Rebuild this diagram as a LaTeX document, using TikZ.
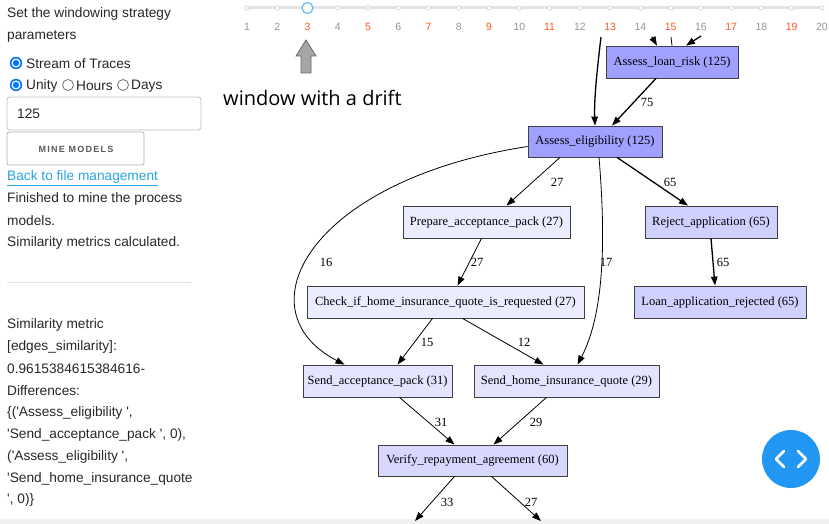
\documentclass[tikz,border=0pt]{standalone}
\usepackage{fontspec}
\setmainfont{Liberation Serif}
\newfontfamily\uifont{Liberation Sans}
\newfontfamily\capfont{Open Sans}
\usetikzlibrary{arrows.meta}
\definecolor{strongpurple}{RGB}{160,160,255}
\definecolor{midpurple}{RGB}{208,208,255}
\definecolor{lightpurple}{RGB}{236,236,255}
\definecolor{lightpurpleb}{RGB}{228,228,255}
\definecolor{verifypurple}{RGB}{216,216,255}
\definecolor{ticklabel}{RGB}{150,150,150}
\definecolor{tickorange}{RGB}{255,87,34}
\definecolor{trackgrey}{RGB}{228,228,228}
\definecolor{handleblue}{RGB}{100,190,245}
\definecolor{radioblue}{RGB}{0,117,255}
\definecolor{linkblue}{RGB}{40,165,225}
\definecolor{fabblue}{RGB}{33,150,243}
\definecolor{uitext}{RGB}{40,40,40}
\begin{document}
\begin{tikzpicture}[x=1pt,y=-1pt,
  gbox/.style={draw=black!75,line width=0.8pt,inner sep=0pt,minimum height=32pt,font=\fontsize{12.5}{14}\selectfont},
  edge/.style={-{Triangle[length=9pt,width=6.5pt]},line width=0.8pt},
  thickedge/.style={edge,line width=1.3pt},
  elabel/.style={font=\fontsize{12.5}{14}\selectfont,inner sep=0pt},
  uitxt/.style={anchor=west,inner sep=0pt,font=\uifont\fontsize{13.7}{15}\selectfont,text=uitext},
  tick/.style={font=\uifont\fontsize{10.5}{12}\selectfont,inner sep=0pt},
  radioon/.style={fill=radioblue,draw=radioblue},
  radiooff/.style={fill=white,draw=black!55,line width=0.8pt}]
\useasboundingbox (0,0) rectangle (829,524);
\fill[white] (0,0) rectangle (829,524);

% ---------- left panel ----------
\node[uitxt] (t1) at (7,14) {Set the windowing strategy};
\node[uitxt] (t2) at (7,36) {parameters};
\fill[radioon] (16,63) circle (6pt); \draw[white,line width=1.2pt] (16,63) circle (3.9pt);
\node[uitxt] (t3) at (26,64) {Stream of Traces};
\fill[radioon] (16,85) circle (6pt); \draw[white,line width=1.2pt] (16,85) circle (3.9pt);
\node[uitxt] (t4) at (26,86) {Unity};
\draw[radiooff] (68,85) circle (5.5pt);
\node[uitxt] (t5) at (76,86) {Hours};
\draw[radiooff] (123,85) circle (5.5pt);
\node[uitxt] (t6) at (131,86) {Days};
\draw[black!25,rounded corners=3pt,line width=0.8pt] (7,97) rectangle (201,130);
\node[uitxt] (t7) at (17,114) {125};
\draw[black!30,rounded corners=2pt,line width=0.8pt] (7,132) rectangle (144,165);
\node[font=\uifont\bfseries\fontsize{9}{10}\selectfont\addfontfeature{LetterSpace=14},text=black!65,inner sep=0pt] (btn) at (76,149.5) {MINE MODELS};
\node[uitxt,text=linkblue] (link) at (7,177) {Back to file management};
\draw[linkblue,line width=0.7pt] (link.south west) ++(0,2) -- ([yshift=-2pt]link.south east);
\node[uitxt] (t8) at (7,199) {Finished to mine the process};
\node[uitxt] (t9) at (7,221) {models.};
\node[uitxt] (t10) at (7,243) {Similarity metrics calculated.};
\draw[black!12,line width=0.8pt] (7,282) -- (191,282);
\node[uitxt] (s1) at (7,325) {Similarity metric};
\node[uitxt] (s2) at (7,347) {[edges\_similarity]:};
\node[uitxt] (s3) at (7,369) {0.9615384615384616-};
\node[uitxt] (s4) at (7,391) {Differences:};
\node[uitxt] (s5) at (7,413) {\{('Assess\_eligibility ',};
\node[uitxt] (s6) at (7,435) {'Send\_acceptance\_pack ', 0),};
\node[uitxt] (s7) at (7,457) {('Assess\_eligibility ',};
\node[uitxt] (s8) at (7,479) {'Send\_home\_insurance\_quote};
\node[uitxt] (s9) at (7,500) {', 0)\}};
\fill[black!6] (0,519) rectangle (829,524);

% ---------- slider ----------
\draw[trackgrey,line width=3pt,line cap=round] (247,8) -- (822,8);
\foreach \i in {1,...,20} {
  \pgfmathsetmacro{\xx}{247+(\i-1)*30.26}
  \draw[black!18,fill=white,line width=0.6pt] (\xx,8) circle (2.2pt);
  \pgfmathparse{mod(\i,2)==1 && \i>2 ? 1 : 0}
  \ifnum\pgfmathresult=1
    \node[tick,text=tickorange] (lab\i) at (\xx,27) {\i};
  \else
    \node[tick,text=ticklabel] (lab\i) at (\xx,27) {\i};
  \fi
}
\draw[handleblue,fill=white,line width=1.2pt] (307.5,8) circle (5.5pt);

% block arrow and caption
\draw[black!60,fill=black!35,line width=0.8pt] (306,40) -- (316,56) -- (311,56) -- (311,73) -- (301,73) -- (301,56) -- (296,56) -- cycle;
\node[font=\capfont\fontsize{20}{22}\selectfont,anchor=west,inner sep=0pt] (drift) at (223,98) {window with a drift};

% ---------- graph ----------
\node[gbox,fill=strongpurple,minimum width=132pt] (alr) at (672,62) {Assess\_loan\_risk (125)};
\node[gbox,fill=strongpurple,minimum width=134pt,minimum height=31pt] (ae) at (595,141.5) {Assess\_eligibility (125)};
\node[gbox,fill=lightpurple,minimum width=167pt] (pap) at (486.5,222) {Prepare\_acceptance\_pack (27)};
\node[gbox,fill=midpurple,minimum width=132pt] (ra) at (711,222) {Reject\_application (65)};
\node[gbox,fill=lightpurple,minimum width=277pt] (chk) at (445.5,302) {Check\_if\_home\_insurance\_quote\_is\_requested (27)};
\node[gbox,fill=midpurple,minimum width=172pt] (lar) at (720,302) {Loan\_application\_rejected (65)};
\node[gbox,fill=lightpurpleb,minimum width=149pt] (sap) at (377.5,381) {Send\_acceptance\_pack (31)};
\node[gbox,fill=lightpurpleb,minimum width=185pt] (shq) at (566.5,381) {Send\_home\_insurance\_quote (29)};
\node[gbox,fill=verifypurple,minimum width=189pt,minimum height=31pt] (vra) at (472.5,460.5) {Verify\_repayment\_agreement (60)};

% free ends
\coordinate (in1) at (652,37);
\coordinate (in2) at (671,37);
\coordinate (in3) at (701,36);
\coordinate (in4) at (601,37);
\coordinate (out1) at (415,521);
\coordinate (out2) at (541,521);

\draw[thickedge] (in1) -- ([xshift=-15pt]alr.north);
\draw[line width=0.8pt] (in2) -- (alr.north);
\draw[thickedge] (in3) -- ([xshift=14pt]alr.north);
\draw[thickedge] (in4) .. controls (597,70) and (594,100) .. (ae.north);
\draw[thickedge] ([xshift=-16pt]alr.south) -- ([xshift=17pt]ae.north);
\draw[edge] ([xshift=-35pt]ae.south) -- ([xshift=20pt]pap.north);
\draw[thickedge] ([xshift=22pt]ae.south) -- ([xshift=-23pt]ra.north);
\draw[edge] ([yshift=-5pt]ae.west) .. controls (310,180) and (240,310) .. ([xshift=-33pt]sap.north);
\draw[edge] ([xshift=4pt]ae.south) .. controls (605,230) and (606,310) .. ([xshift=11pt]shq.north);
\draw[edge] ([xshift=-5pt]pap.south) -- ([xshift=12pt]chk.north);
\draw[thickedge] (ra.south) -- ([xshift=-5pt]lar.north);
\draw[edge] ([xshift=-13pt]chk.south) -- ([xshift=20pt]sap.north);
\draw[edge] ([xshift=17pt]chk.south) -- ([xshift=-23pt]shq.north);
\draw[edge] ([xshift=22pt]sap.south) -- ([xshift=-18pt]vra.north);
\draw[edge] ([xshift=-20pt]shq.south) -- ([xshift=21pt]vra.north);
\draw[edge] ([xshift=-18pt]vra.south) -- (out1);
\draw[edge] ([xshift=19pt]vra.south) -- (out2);

\node[elabel] (l75) at (647,102) {75};
\node[elabel] (l27a) at (557,182) {27};
\node[elabel] (l65a) at (670,182) {65};
\node[elabel] (l16) at (326,262) {16};
\node[elabel] (l27b) at (477,262) {27};
\node[elabel] (l17) at (606,262) {17};
\node[elabel] (l65b) at (723,262) {65};
\node[elabel] (l15) at (427,342) {15};
\node[elabel] (l12) at (524,342) {12};
\node[elabel] (l31) at (441,422) {31};
\node[elabel] (l29) at (536,422) {29};
\node[elabel] (l33) at (447,502) {33};
\node[elabel] (l27c) at (531,502) {27};

% floating button
\fill[fabblue] (791,459) circle (29pt);
\draw[white,line width=2.6pt,line cap=round,line join=round] (784,451) -- (776,459) -- (784,467);
\draw[white,line width=2.6pt,line cap=round,line join=round] (798,451) -- (806,459) -- (798,467);
\end{tikzpicture}
\end{document}
